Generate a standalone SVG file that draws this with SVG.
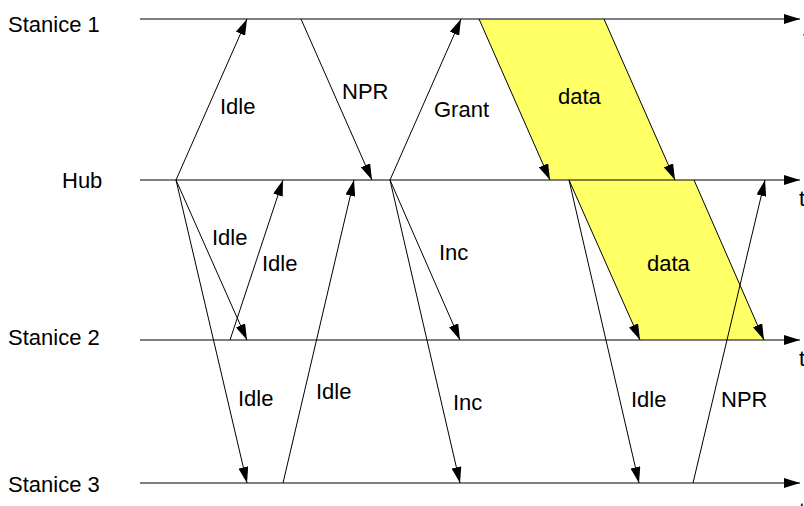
<svg xmlns="http://www.w3.org/2000/svg" width="804" height="506" viewBox="0 0 804 506">
<style>
text{font-family:"Liberation Sans",Arial,Helvetica,sans-serif;font-size:22px;fill:#000}
.ax{stroke:#000;stroke-width:1;fill:none;marker-end:url(#ah)}
.msg{stroke:#000;stroke-width:1;fill:none;marker-end:url(#ah)}
.data{fill:#ffff66;stroke:none}
</style>
<defs>
<marker id="ah" markerUnits="userSpaceOnUse" markerWidth="16" markerHeight="10" refX="16" refY="5" orient="auto" viewBox="0 0 16 10">
<path d="M0,0 L16,5 L0,10 z" fill="#000"/>
</marker>
</defs>
<rect width="804" height="506" fill="#fff"/>
<g id="data-fills">
<polygon class="data" points="479,19 604,19 675,180 550,180"/>
<polygon class="data" points="569,180 694,180 764,340 640,340"/>
</g>
<g id="stanice1">
<text x="8" y="32">Stanice 1</text>
<line class="ax" x1="140" y1="19" x2="800" y2="19"/>
<text x="803" y="46">t</text>
</g>
<g id="hub">
<text x="62" y="188">Hub</text>
<line class="ax" x1="140" y1="180" x2="800" y2="180"/>
<text x="799" y="206">t</text>
</g>
<g id="stanice2">
<text x="8" y="345">Stanice 2</text>
<line class="ax" x1="140" y1="340" x2="800" y2="340"/>
<text x="799" y="366">t</text>
</g>
<g id="stanice3">
<text x="8" y="492">Stanice 3</text>
<line class="ax" x1="140" y1="483" x2="800" y2="483"/>
<text x="799" y="518">t</text>
</g>
<g id="connectors">
<line class="msg" x1="176" y1="180" x2="247" y2="19"/>
<line class="msg" x1="301" y1="19" x2="372" y2="180"/>
<line class="msg" x1="176" y1="180" x2="247" y2="340"/>
<line class="msg" x1="176" y1="180" x2="247" y2="483"/>
<line class="msg" x1="230" y1="340" x2="283" y2="180"/>
<line class="msg" x1="283" y1="483" x2="354" y2="180"/>
<line class="msg" x1="390" y1="180" x2="461" y2="19"/>
<line class="msg" x1="390" y1="180" x2="460" y2="340"/>
<line class="msg" x1="390" y1="180" x2="460" y2="483"/>
<line class="msg" x1="479" y1="19" x2="550" y2="180"/>
<line class="msg" x1="604" y1="19" x2="675" y2="180"/>
<line class="msg" x1="569" y1="180" x2="640" y2="340"/>
<line class="msg" x1="694" y1="180" x2="764" y2="340"/>
<line class="msg" x1="569" y1="180" x2="639" y2="483"/>
<line class="msg" x1="693" y1="483" x2="765" y2="180"/>
</g>
<g id="labels">
<text x="220" y="114">Idle</text>
<text x="342" y="99">NPR</text>
<text x="434" y="117">Grant</text>
<text x="558" y="104">data</text>
<text x="212" y="245">Idle</text>
<text x="262" y="271">Idle</text>
<text x="439" y="260">Inc</text>
<text x="647" y="271">data</text>
<text x="238" y="406">Idle</text>
<text x="316" y="399">Idle</text>
<text x="453" y="410">Inc</text>
<text x="631" y="407">Idle</text>
<text x="721" y="407">NPR</text>
</g>
</svg>
